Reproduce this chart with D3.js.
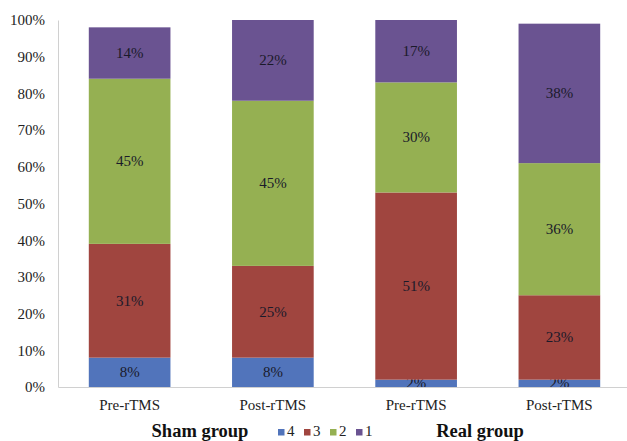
<!DOCTYPE html>
<html>
<head>
<meta charset="utf-8">
<script src="https://cdn.jsdelivr.net/npm/d3@7"></script>
<style>
  html, body { margin: 0; padding: 0; background: #fff; }
  svg { display: block; font-family: "Liberation Serif", "Times New Roman", serif; }
  svg text { font-family: "Liberation Serif", "Times New Roman", serif; }
</style>
</head>
<body>
<svg id="chart" width="627" height="441"></svg>
<script>
// Stacked response-score shares per session
const bars = ["Sham Pre", "Sham Post", "Real Pre", "Real Post"];
const barLabels = ["Pre-rTMS", "Post-rTMS", "Pre-rTMS", "Post-rTMS"];
const scores = ["4", "3", "2", "1"];
const score4 = [8, 8, 2, 2];
const score3 = [31, 25, 51, 23];
const score2 = [45, 45, 30, 36];
const score1 = [14, 22, 17, 38];
const yTicks = [0, 10, 20, 30, 40, 50, 60, 70, 80, 90, 100];
const groups = ["Sham group", "Real group"];
const colors = ["#5174bb", "#a0453f", "#95b052", "#6a5391"];

const seriesValues = [score4, score3, score2, score1];
const rows = bars.map((b, i) => {
  const r = { bar: b };
  scores.forEach((s, k) => { r[s] = seriesValues[k][i]; });
  return r;
});

const svg = d3.select("#chart");
const margin = { left: 58, right: 631, top: 20, bottom: 387 };

const x = d3.scaleBand().domain(bars).range([margin.left, margin.right]).paddingInner(0.43).paddingOuter(0.215);
const y = d3.scaleLinear().domain([0, 100]).range([margin.bottom, margin.top]);

const layers = d3.stack().keys(scores)(rows);

// bars
const layerG = svg.append("g").selectAll("g").data(layers).join("g")
  .attr("fill", (d, i) => colors[i]);
layerG.selectAll("rect").data(d => d).join("rect")
  .attr("x", d => x(d.data.bar))
  .attr("width", x.bandwidth())
  .attr("y", d => y(d[1]))
  .attr("height", d => y(d[0]) - y(d[1]));

// value labels
layerG.selectAll("text").data(d => d).join("text")
  .attr("x", d => x(d.data.bar) + x.bandwidth() / 2)
  .attr("y", d => (y(d[0]) + y(d[1])) / 2 + 5)
  .attr("text-anchor", "middle")
  .attr("font-size", 15)
  .attr("fill", "#1a1a2a")
  .text(d => (d[1] - d[0]) + "%");

// y axis
const yAxis = d3.axisLeft(y).tickValues(yTicks).tickFormat(d => d + "%").tickSize(0).tickPadding(13);
const yg = svg.append("g").attr("transform", `translate(${margin.left},0)`).call(yAxis);
yg.select(".domain").attr("stroke", "#d0d0d0");
yg.selectAll("text").attr("font-size", 15).attr("fill", "#222");

// x axis
const xAxis = d3.axisBottom(x).tickSize(0).tickPadding(12).tickFormat((d, i) => barLabels[i]);
const xg = svg.append("g").attr("transform", `translate(0,${margin.bottom})`).call(xAxis);
xg.select(".domain").attr("stroke", "#d0d0d0");
xg.selectAll("text").attr("font-size", 15).attr("fill", "#222");

// group titles
const groupX = [200, 480];
svg.selectAll("text.group").data(groups).join("text")
  .attr("class", "group")
  .attr("x", (d, i) => groupX[i])
  .attr("y", 437)
  .attr("text-anchor", "middle")
  .attr("font-size", 18.5)
  .attr("font-weight", "bold")
  .attr("fill", "#111")
  .text(d => d);

// legend
const legend = svg.append("g").attr("transform", "translate(278,434)");
const item = legend.selectAll("g").data(scores).join("g")
  .attr("transform", (d, i) => `translate(${i * 26},0)`);
item.append("rect").attr("x", 0).attr("y", -5).attr("width", 6.5).attr("height", 6.5)
  .attr("fill", (d, i) => colors[i]);
item.append("text").attr("x", 9).attr("y", 2).attr("font-size", 15).attr("fill", "#222").text(d => d);
</script>
</body>
</html>
